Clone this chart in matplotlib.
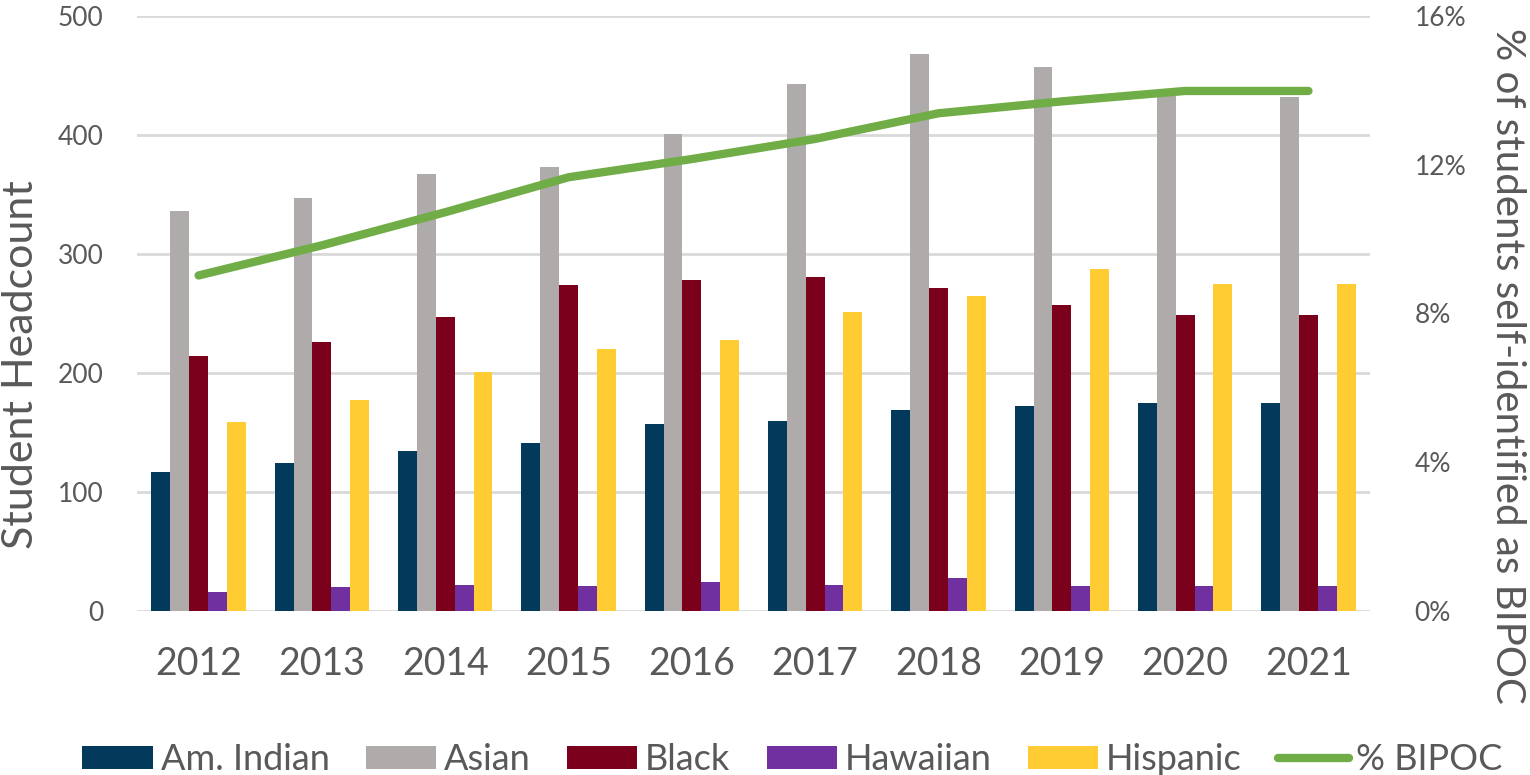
import numpy as np
import matplotlib as mpl
import matplotlib.pyplot as plt
from matplotlib.ticker import FuncFormatter

years = ['2012', '2013', '2014', '2015', '2016', '2017', '2018', '2019', '2020', '2021']
am_indian = [117, 124, 134, 141, 157, 160, 169, 172, 175, 175]
asian = [336, 347, 367, 373, 401, 443, 468, 457, 433, 432]
black = [214, 226, 247, 274, 278, 281, 271, 257, 249, 249]
hawaiian = [16, 20, 22, 21, 24, 22, 28, 21, 21, 21]
hispanic = [159, 177, 201, 220, 228, 251, 265, 287, 275, 275]
pct_bipoc = [9.02, 9.83, 10.72, 11.66, 12.15, 12.69, 13.38, 13.70, 13.98, 13.98]

series = [('Am. Indian', am_indian, '#033A5C'),
          ('Asian', asian, '#AFABAB'),
          ('Black', black, '#7B001B'),
          ('Hawaiian', hawaiian, '#7030A0'),
          ('Hispanic', hispanic, '#FFCD33')]

plt.rcParams['font.family'] = ['Lato', 'DejaVu Sans']
grey = '#595959'

fig = plt.figure(figsize=(15.3, 7.75), dpi=100)
ax = fig.add_axes([0.0895, 0.2116, 0.806, 0.768])
ax2 = ax.twinx()

x = np.arange(len(years))
w = 0.153
for i, (name, vals, col) in enumerate(series):
    ax.bar(x + (i - 2) * w, vals, w, color=col, label=name, zorder=2)

ax2.plot(x, pct_bipoc, color='#70AD47', lw=6, solid_capstyle='round', label='% BIPOC', zorder=3)

ax.set_xlim(-0.5, len(years) - 0.5)
ax.set_ylim(0, 500)
ax.set_yticks(range(0, 501, 100))
ax2.set_ylim(0, 16)
ax2.set_yticks(range(0, 17, 4))
ax2.yaxis.set_major_formatter(FuncFormatter(lambda v, p: '%d%%' % v))

ax.grid(axis='y', color='#D9D9D9', lw=2, zorder=0)
ax.set_axisbelow(True)
for a in (ax, ax2):
    for s in a.spines.values():
        s.set_visible(False)
    a.tick_params(length=0, colors=grey)

ax.set_xticks(x)
ax.set_xticklabels(years, fontsize=27)
ax.tick_params(axis='x', pad=25)
ax.tick_params(axis='y', labelsize=19, pad=24)
ax2.tick_params(axis='y', labelsize=19, pad=32)

# axis titles sit a bit below the axes centre in the original
fig.text(0.0135, 1 - 365 / 775, 'Student Headcount', fontsize=31, color=grey,
         rotation=90, ha='center', va='center')
fig.text(0.985, 1 - 366 / 775, '% of students self-identified as BIPOC', fontsize=29,
         color=grey, rotation=270, ha='center', va='center')

h1, l1 = ax.get_legend_handles_labels()
h2, l2 = ax2.get_legend_handles_labels()
fig.legend(h1 + h2, l1 + l2, loc='lower center', bbox_to_anchor=(0.518, -0.029), ncol=6,
           frameon=False, fontsize=26, labelcolor=grey, handlelength=1.95,
           handleheight=0.6, handletextpad=0.22, columnspacing=1.0,
           borderaxespad=0.2)

fig.savefig('out.png', dpi=100)
